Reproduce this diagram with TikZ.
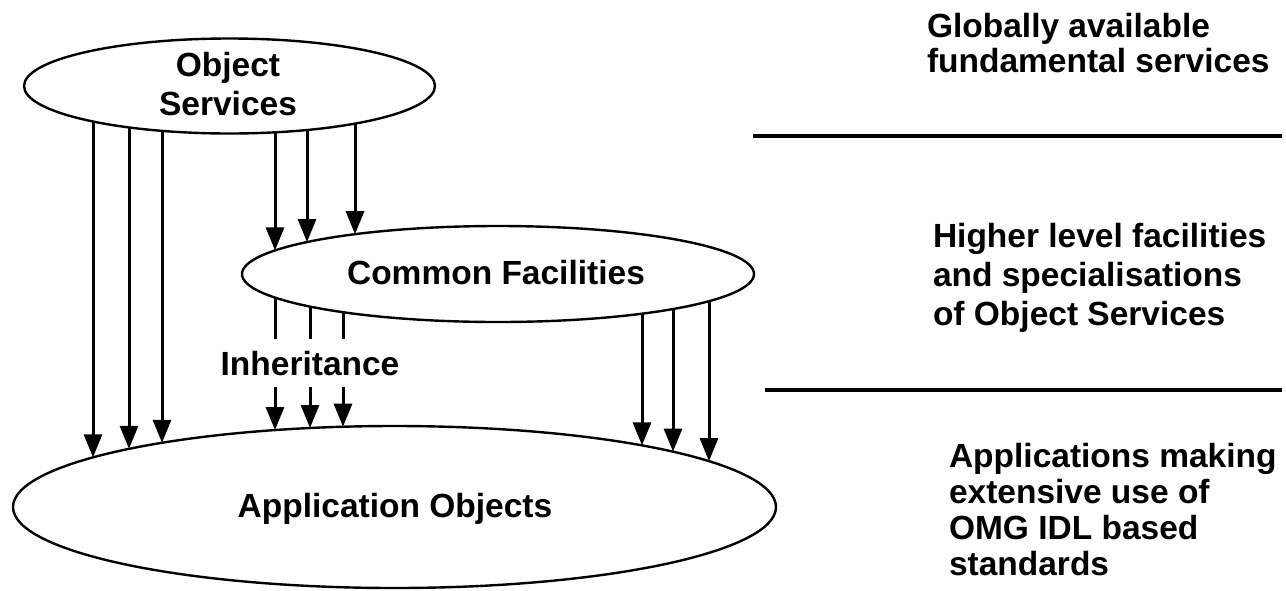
\documentclass[tikz,border=0pt]{standalone}
\usepackage{fontspec}
\setmainfont{Liberation Sans}
\usetikzlibrary{arrows.meta,shapes.geometric}
\begin{document}
\begin{tikzpicture}[x=0.5pt,y=-0.5pt,
  ell/.style={draw, ellipse, line width=1.2pt, inner sep=0pt, outer sep=0pt},
  lbl/.style={font=\fontsize{16.75}{19.5}\selectfont\bfseries, inner sep=0pt, outer sep=0pt},
  side/.style={lbl, align=left, anchor=base west},
  arr/.style={line width=1.5pt, -{Triangle[width=9pt,length=11.5pt]}},
  sep/.style={line width=1.6pt}]
\useasboundingbox (0,0) rectangle (1286,590);
% ellipse parameters (centre x, centre y, semi-axes)
\def\osx{229.5}\def\osy{86}\def\osa{205.5}\def\osb{47.5}
\def\cfx{498}\def\cfy{274}\def\cfa{256}\def\cfb{48}
\def\aox{394.5}\def\aoy{507}\def\aoa{381.5}\def\aob{81}
\node[ell, minimum width=205.5pt, minimum height=47.5pt] (os) at (\osx,\osy) {};
\node[ell, minimum width=256pt, minimum height=48pt] (cf) at (\cfx,\cfy) {};
\node[ell, minimum width=381.5pt, minimum height=81pt] (ao) at (\aox,\aoy) {};
\node[lbl, align=center, anchor=base] (ost) at (228,115) {Object\\Services};
\node[lbl, anchor=base] (cft) at (496,284) {Common Facilities};
\node[lbl, anchor=base] (aot) at (395,517) {Application Objects};
% border points
\foreach \x/\n in {93/1,129/2,162/3,275/4,307/5,355/6}
  \coordinate (osb\n) at (\x,{\osy+\osb*sqrt(1-((\x-\osx)/\osa)^2)});
\foreach \x/\n in {275/1,307/2,355/3}
  \coordinate (cft\n) at (\x,{\cfy-\cfb*sqrt(1-((\x-\cfx)/\cfa)^2)});
\foreach \x/\n in {275/1,310/2,343/3,642/4,673/5,709/6}
  \coordinate (cfb\n) at (\x,{\cfy+\cfb*sqrt(1-((\x-\cfx)/\cfa)^2)});
\foreach \x/\n in {93/1,129/2,162/3,275/4,310/5,343/6,642/7,673/8,709/9}
  \coordinate (aot\n) at (\x,{\aoy-\aob*sqrt(1-((\x-\aox)/\aoa)^2)});
% Object Services -> Application Objects
\draw[arr] (osb1) -- (aot1);
\draw[arr] (osb2) -- (aot2);
\draw[arr] (osb3) -- (aot3);
% Object Services -> Common Facilities
\draw[arr] (osb4) -- (cft1);
\draw[arr] (osb5) -- (cft2);
\draw[arr] (osb6) -- (cft3);
% Common Facilities -> Application Objects (inheritance)
\draw[arr] (cfb1) -- (aot4);
\draw[arr] (cfb2) -- (aot5);
\draw[arr] (cfb3) -- (aot6);
\draw[arr] (cfb4) -- (aot7);
\draw[arr] (cfb5) -- (aot8);
\draw[arr] (cfb6) -- (aot9);
\node[lbl, fill=white, minimum height=24pt, anchor=base] (inh) at (310,375) {Inheritance};
% right-hand descriptions
\coordinate (s1a) at (753,136); \coordinate (s1b) at (1282,136);
\coordinate (s2a) at (765,390); \coordinate (s2b) at (1282,390);
\draw[sep] (s1a) -- (s1b);
\draw[sep] (s2a) -- (s2b);
\node[side, font=\fontsize{16.75}{17.5}\selectfont\bfseries] (d1) at (927,72) {Globally available\\fundamental services};
\node[side] (d2) at (933,325) {Higher level facilities\\and specialisations\\of Object Services};
\node[side, font=\fontsize{16.75}{18}\selectfont\bfseries] (d3) at (949,575) {Applications making\\extensive use of\\OMG IDL based\\standards};
\end{tikzpicture}
\end{document}
